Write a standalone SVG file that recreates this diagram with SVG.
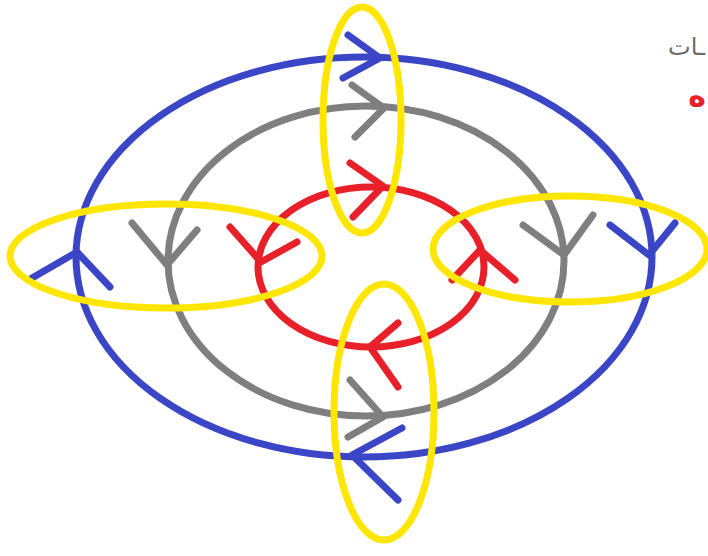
<svg xmlns="http://www.w3.org/2000/svg" width="708" height="556" viewBox="0 0 708 556">
<style>
.ring{fill:none;stroke-width:7}
.arr{fill:none;stroke-width:7;stroke-linecap:round;stroke-linejoin:round}
.b{stroke:#3b46c6}
.g{stroke:#7f7f7f}
.r{stroke:#e8202a}
.y{fill:none;stroke:#ffe600;stroke-width:7}
.t{font-family:"Noto Sans","DejaVu Sans",sans-serif}
</style>
<rect width="708" height="556" fill="#ffffff"/>
<g id="blue-ring">
<ellipse class="ring b" cx="364" cy="257" rx="288" ry="200"/>
</g>
<g id="gray-ring">
<ellipse class="ring g" cx="366" cy="261" rx="198" ry="155"/>
</g>
<g id="red-ring">
<ellipse class="ring r" cx="371" cy="267" rx="113" ry="80"/>
</g>
<g id="connectors">
<polyline class="arr b" points="348,35 380,58 343,78"/>
<polyline class="arr g" points="352,85 384,108 355,137"/>
<polyline class="arr r" points="350,163 383,186 353,217"/>
<polyline class="arr b" points="32,278 77,252 110,287"/>
<polyline class="arr g" points="132,223 167,265 197,230"/>
<polyline class="arr r" points="230,227 261,262 297,242"/>
<polyline class="arr r" points="452,280 480,250 515,280"/>
<polyline class="arr g" points="523,225 564,255 593,215"/>
<polyline class="arr b" points="610,225 649,255 675,223"/>
<polyline class="arr r" points="398,323 370,347 398,387"/>
<polyline class="arr g" points="350,380 383,417 348,437"/>
<polyline class="arr b" points="402,428 352,455 398,500"/>
</g>
<g id="highlights">
<ellipse class="y" cx="362" cy="120" rx="39" ry="113"/>
<ellipse class="y" cx="166" cy="256" rx="156" ry="52"/>
<ellipse class="y" cx="570" cy="249" rx="137" ry="53"/>
<ellipse class="y" cx="384" cy="412" rx="50" ry="128"/>
</g>
<g id="labels">
<text class="t" x="705" y="55" font-size="24" fill="#6b6b6b" direction="rtl" text-anchor="start">ـات</text>
<text class="t" x="706" y="106" font-size="30" font-weight="bold" fill="#e8202a" direction="rtl" text-anchor="start">ه</text>
</g>
</svg>
